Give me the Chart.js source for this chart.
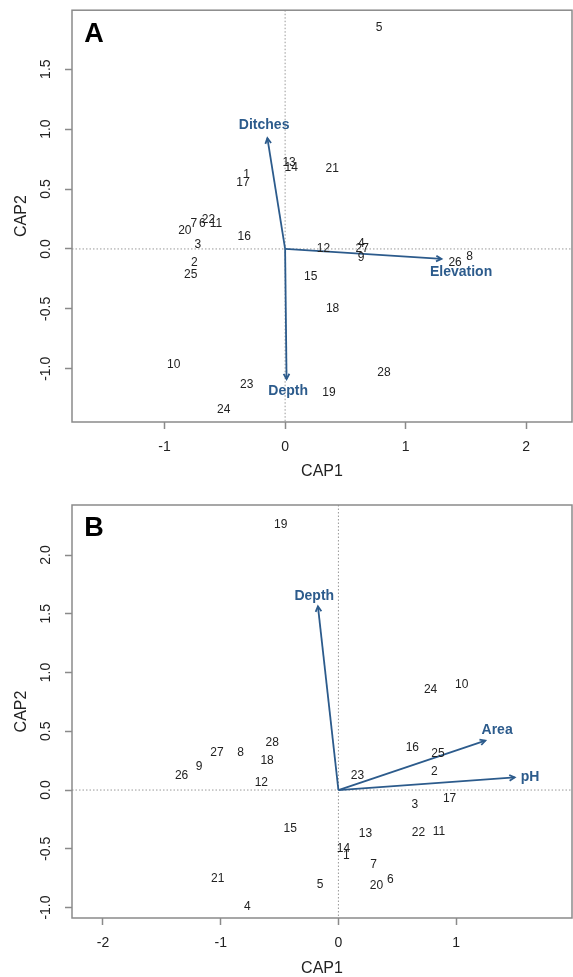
<!DOCTYPE html>
<html>
<head>
<meta charset="utf-8">
<script src="https://cdn.jsdelivr.net/npm/chart.js@4.4.1/dist/chart.umd.min.js"></script>
<style>
  body { margin: 0; background: #fff; }
  #chartA { position: absolute; left: 0; top: 0; }
  #chartB { position: absolute; left: 0; top: 485px; }
</style>
</head>
<body>
<canvas id="chartA" width="573" height="485"></canvas>
<canvas id="chartB" width="573" height="492"></canvas>
<script>
// site labels (same order for both panels)
var sites = ['1','2','3','4','5','6','7','8','9','10','11','12','13','14',
             '15','16','17','18','19','20','21','22','23','24','25','26','27','28'];

// panel A scores
var capA1 = [-0.32, -0.753, -0.725, 0.633, 0.78, -0.686, -0.758, 1.53, 0.63, -0.924,
             -0.573, 0.318, 0.033, 0.05, 0.213, -0.34, -0.35, 0.394, 0.364, -0.832,
             0.39, -0.636, -0.318, -0.51, -0.783, 1.41, 0.64, 0.82];
var capA2 = [0.62, -0.116, 0.039, 0.044, 1.85, 0.213, 0.207, -0.064, -0.072, -0.964,
             0.213, 0.0, 0.716, 0.68, -0.23, 0.1, 0.556, -0.496, -1.197, 0.149,
             0.67, 0.246, -1.13, -1.343, -0.218, -0.114, 0.006, -1.03];
var vecA = ['Ditches', 'Elevation', 'Depth'];
var vecA1 = [-0.147, 1.297, 0.012];
var vecA2 = [0.924, -0.083, -1.086];
var vecLabA1 = [-0.174, 1.46, 0.025];
var vecLabA2 = [1.037, -0.19, -1.187];
var xTicksA = [-1, 0, 1, 2];
var yTicksA = [-1, -0.5, 0, 0.5, 1, 1.5];

// panel B scores
var capB1 = [0.068, 0.814, 0.649, -0.773, -0.155, 0.441, 0.298, -0.832, -1.183, 1.047,
             0.854, -0.655, 0.23, 0.043, -0.41, 0.628, 0.944, -0.606, -0.49, 0.323,
             -1.025, 0.68, 0.161, 0.783, 0.845, -1.332, -1.031, -0.562];
var capB2 = [-0.557, 0.158, -0.127, -0.99, -0.806, -0.764, -0.636, 0.322, 0.195, 0.899,
             -0.356, 0.062, -0.368, -0.495, -0.331, 0.363, -0.071, 0.252, 2.262, -0.812,
             -0.755, -0.365, 0.119, 0.851, 0.311, 0.119, 0.322, 0.404];
var vecB = ['Depth', 'Area', 'pH'];
var vecB1 = [-0.174, 1.248, 1.497];
var vecB2 = [1.564, 0.421, 0.107];
var vecLabB1 = [-0.205, 1.348, 1.627];
var vecLabB2 = [1.654, 0.512, 0.113];
var xTicksB = [-2, -1, 0, 1];
var yTicksB = [-1, -0.5, 0, 0.5, 1, 1.5, 2];

var BLUE = '#2c5b8c';
var AXIS = '#8a8a8a';
var TEXT = '#222';

var biplot = {
    id: 'biplot',
    beforeDatasetsDraw: function(chart) {
        var ctx = chart.ctx, a = chart.chartArea;
        var sx = chart.scales.x, sy = chart.scales.y;
        // dotted zero lines
        ctx.save();
        ctx.strokeStyle = '#999';
        ctx.lineWidth = 1;
        ctx.setLineDash([1.5, 2]);
        ctx.beginPath();
        var x0 = sx.getPixelForValue(0), y0 = sy.getPixelForValue(0);
        ctx.moveTo(x0, a.top); ctx.lineTo(x0, a.bottom);
        ctx.moveTo(a.left, y0); ctx.lineTo(a.right, y0);
        ctx.stroke();
        ctx.restore();
    },
    afterDatasetsDraw: function(chart, args, o) {
        var ctx = chart.ctx, a = chart.chartArea;
        var sx = chart.scales.x, sy = chart.scales.y;
        ctx.save();
        // site numbers
        ctx.fillStyle = TEXT;
        ctx.font = '12px "Liberation Sans", Arial, sans-serif';
        ctx.textAlign = 'center';
        ctx.textBaseline = 'middle';
        chart.getDatasetMeta(0).data.forEach(function(pt, i) {
            ctx.fillText(sites[i], pt.x, pt.y);
        });
        // arrow heads + labels
        ctx.strokeStyle = BLUE;
        ctx.lineWidth = 1.8;
        o.vx.forEach(function(v, i) {
            var x0 = sx.getPixelForValue(0), y0 = sy.getPixelForValue(0);
            var x1 = sx.getPixelForValue(v), y1 = sy.getPixelForValue(o.vy[i]);
            var ang = Math.atan2(y1 - y0, x1 - x0), len = 6;
            ctx.beginPath();
            ctx.moveTo(x1 - len * Math.cos(ang - 0.5), y1 - len * Math.sin(ang - 0.5));
            ctx.lineTo(x1, y1);
            ctx.lineTo(x1 - len * Math.cos(ang + 0.5), y1 - len * Math.sin(ang + 0.5));
            ctx.stroke();
        });
        ctx.fillStyle = BLUE;
        ctx.font = 'bold 14px "Liberation Sans", Arial, sans-serif';
        o.names.forEach(function(n, i) {
            ctx.fillText(n, sx.getPixelForValue(o.lx[i]), sy.getPixelForValue(o.ly[i]));
        });
        // box
        ctx.strokeStyle = AXIS;
        ctx.lineWidth = 1.5;
        ctx.strokeRect(a.left, a.top, a.right - a.left, a.bottom - a.top);
        // y tick labels, rotated like R
        ctx.fillStyle = TEXT;
        ctx.font = '14px "Liberation Sans", Arial, sans-serif';
        sy.ticks.forEach(function(t) {
            ctx.save();
            ctx.translate(46, sy.getPixelForValue(t.value));
            ctx.rotate(-Math.PI / 2);
            ctx.fillText(t.value.toFixed(1), 0, 0);
            ctx.restore();
        });
        // axis titles
        ctx.font = '16px "Liberation Sans", Arial, sans-serif';
        ctx.fillText('CAP1', (a.left + a.right) / 2, o.titleY);
        ctx.save();
        ctx.translate(22, (a.top + a.bottom) / 2);
        ctx.rotate(-Math.PI / 2);
        ctx.fillText('CAP2', 0, 0);
        ctx.restore();
        // panel letter
        ctx.fillStyle = '#000';
        ctx.font = 'bold 27px "Liberation Sans", Arial, sans-serif';
        ctx.fillText(o.letter, 94, a.top + 24);
        ctx.restore();
    }
};

function makeChart(id, c1, c2, names, vx, vy, lx, ly, xs, ys, xr, yr, pad, xh, titleY, letter) {
    var datasets = [{
        data: c1.map(function(v, i) { return {x: v, y: c2[i]}; }),
        pointRadius: 0,
        showLine: false
    }];
    vx.forEach(function(v, i) {
        datasets.push({
            data: [{x: 0, y: 0}, {x: v, y: vy[i]}],
            showLine: true,
            borderColor: BLUE,
            borderWidth: 1.8,
            pointRadius: 0
        });
    });
    return new Chart(document.getElementById(id), {
        type: 'scatter',
        data: {datasets: datasets},
        options: {
            responsive: false,
            animation: false,
            layout: {padding: {top: pad, right: 1}},
            plugins: {
                legend: {display: false},
                tooltip: {enabled: false},
                biplot: {names: names, vx: vx, vy: vy, lx: lx, ly: ly, titleY: titleY, letter: letter}
            },
            scales: {
                x: {
                    min: xr[0], max: xr[1],
                    afterBuildTicks: function(s) { s.ticks = xs.map(function(v) { return {value: v}; }); },
                    afterFit: function(s) { s.height = xh; },
                    grid: {drawOnChartArea: false, tickLength: 7, tickColor: AXIS, tickWidth: 1.5},
                    border: {display: false},
                    ticks: {color: TEXT, padding: 10, font: {size: 14, family: '"Liberation Sans", Arial'},
                            callback: function(v) { return String(v); }}
                },
                y: {
                    min: yr[0], max: yr[1],
                    afterBuildTicks: function(s) { s.ticks = ys.map(function(v) { return {value: v}; }); },
                    afterFit: function(s) { s.width = 72; },
                    grid: {drawOnChartArea: false, tickLength: 7, tickColor: AXIS, tickWidth: 1.5},
                    border: {display: false},
                    ticks: {color: 'rgba(0,0,0,0)'}
                }
            }
        },
        plugins: [biplot]
    });
}

makeChart('chartA', capA1, capA2, vecA, vecA1, vecA2, vecLabA1, vecLabA2,
          xTicksA, yTicksA, [-1.768, 2.38], [-1.444, 1.992], 8, 63, 472, 'A');
makeChart('chartB', capB1, capB2, vecB, vecB1, vecB2, vecLabB1, vecLabB2,
          xTicksB, yTicksB, [-2.263, 1.984], [-1.089, 2.426], 20, 59, 484, 'B');
</script>
</body>
</html>
